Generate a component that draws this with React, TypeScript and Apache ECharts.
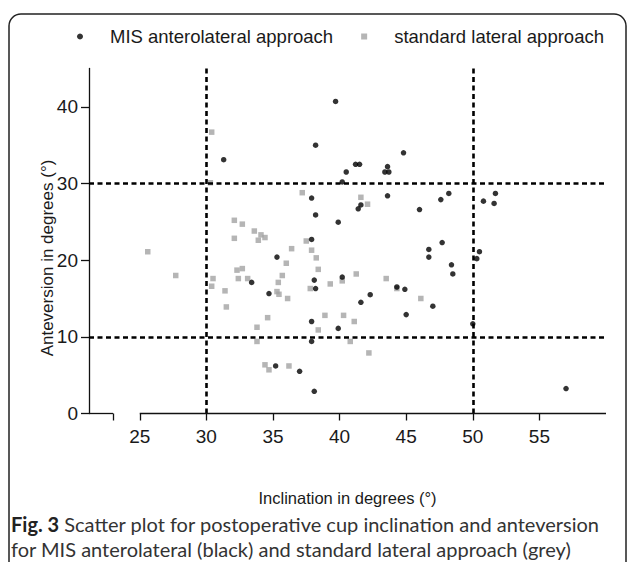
import React, { useEffect, useRef } from "react";
import * as echarts from "echarts";

// MIS anterolateral approach: [inclination, anteversion]
const misPoints: [number, number][] = [
  [31.3, 33.1], [39.7, 40.7], [38.2, 35.0], [44.8, 34.0], [41.2, 32.5], [41.5, 32.5],
  [40.5, 31.5], [43.6, 32.2], [43.4, 31.5], [43.7, 31.5], [40.2, 30.2], [37.9, 28.1],
  [41.6, 27.2], [41.4, 26.7], [43.6, 28.4], [38.2, 25.9], [46.0, 26.6], [47.6, 27.9],
  [48.2, 28.7], [39.9, 24.95], [37.9, 22.7], [50.8, 27.7], [51.7, 28.7], [51.6, 27.4],
  [35.3, 20.4], [33.4, 17.1], [34.7, 15.65], [35.2, 6.2], [38.1, 17.4], [40.2, 17.8],
  [38.2, 16.3], [44.3, 16.5], [44.9, 16.2], [42.3, 15.5], [41.6, 14.5], [47.0, 14.0],
  [45.0, 12.9], [46.7, 21.4], [46.7, 20.4], [47.7, 22.3], [48.4, 19.4], [48.5, 18.2],
  [37.9, 12.0], [39.9, 11.1], [37.9, 9.4], [37.0, 5.5], [38.1, 2.9], [50.3, 20.2],
  [50.5, 21.1], [50.0, 11.7], [57.0, 3.25]
];

// Standard lateral approach: [inclination, anteversion]
const stdPoints: [number, number][] = [
  [30.4, 36.7], [30.3, 30.1], [32.1, 25.2], [32.7, 24.7], [33.6, 23.8], [34.1, 23.3],
  [34.4, 22.95], [32.1, 22.85], [33.9, 22.6], [25.6, 21.1], [27.7, 18.0], [32.3, 18.7],
  [32.7, 18.9], [30.5, 17.6], [32.4, 17.6], [33.1, 17.6], [35.4, 17.1], [30.4, 16.6],
  [31.4, 16.0], [35.3, 15.9], [35.45, 15.55], [31.5, 13.9], [34.6, 12.5], [33.8, 11.25],
  [33.8, 9.4], [34.4, 6.35], [34.7, 5.7], [37.2, 28.8], [41.6, 28.2], [42.1, 27.3],
  [37.5, 22.5], [36.4, 21.5], [37.9, 21.3], [38.25, 20.3], [36.0, 19.6], [38.4, 18.8],
  [35.7, 18.0], [40.2, 17.3], [41.25, 18.2], [39.3, 16.9], [37.8, 16.3], [36.1, 15.0],
  [43.5, 17.6], [44.3, 16.3], [46.1, 15.0], [38.9, 12.8], [40.3, 12.8], [41.1, 12.0],
  [38.4, 10.9], [40.8, 9.4], [42.2, 7.9], [36.2, 6.2]
];

const seriesNames = ["MIS anterolateral approach", "standard lateral approach"];
const xTickLabels = [25, 30, 35, 40, 45, 50, 55];
const xTickMarks = [23, 25, 30, 35, 40, 45, 50, 55];
const xRange = [21.19, 60];
const xBreak = [23, 25];
const yTicks = [0, 10, 20, 30, 40];
const yRange = [0, 45];
const refX = [30, 50];
const refY = [10, 30];
const xTitle = "Inclination in degrees (°)";
const yTitle = "Anteversion in degrees (°)";
const captionBold = "Fig. 3";
const captionLine1 = " Scatter plot for postoperative cup inclination and anteversion";
const captionLine2 = "for MIS anterolateral (black) and standard lateral approach (grey)";

const FONT = "'Liberation Sans', Arial, sans-serif";
const CAP_FONT = "Lato, 'Open Sans', sans-serif";

export default function App() {
  const ref = useRef<HTMLDivElement>(null);
  useEffect(() => {
    if (!ref.current) return;
    const chart = echarts.init(ref.current, undefined, { renderer: "svg" });
    const axisColor = "#111";
    chart.setOption({
      animation: false,
      backgroundColor: "#fff",
      textStyle: { fontFamily: FONT },
      grid: { left: 89, right: 23, top: 68.5, bottom: 148.5 },
      legend: {
        left: 72,
        top: 22,
        itemWidth: 6,
        itemHeight: 6,
        itemGap: 28,
        data: [
          { name: seriesNames[0], icon: "circle" },
          { name: seriesNames[1], icon: "rect" }
        ],
        textStyle: { fontSize: 18.5, color: "#1a1a1a", fontFamily: FONT, padding: [0, 0, 0, 22] }
      },
      xAxis: {
        type: "value",
        min: xRange[0],
        max: xRange[1],
        splitLine: { show: false },
        axisLine: { show: false },
        axisTick: {
          show: true,
          customValues: xTickMarks,
          length: 7,
          lineStyle: { color: axisColor, width: 1.3 }
        },
        axisLabel: {
          customValues: xTickLabels,
          fontSize: 19,
          color: "#1a1a1a",
          margin: 13
        },
        name: xTitle,
        nameLocation: "middle",
        nameGap: 76,
        nameTextStyle: { fontSize: 16.5, color: "#1a1a1a" }
      },
      yAxis: {
        type: "value",
        min: yRange[0],
        max: yRange[1],
        splitLine: { show: false },
        axisLine: { show: true, onZero: false, lineStyle: { color: axisColor, width: 1.3 } },
        axisTick: {
          show: true,
          customValues: yTicks,
          length: 8,
          lineStyle: { color: axisColor, width: 1.3 }
        },
        axisLabel: {
          customValues: yTicks,
          fontSize: 19,
          color: "#1a1a1a",
          margin: 11
        }
      },
      series: [
        {
          name: seriesNames[0],
          type: "scatter",
          symbol: "circle",
          symbolSize: 5.5,
          itemStyle: { color: "#000" },
          data: misPoints,
          z: 3,
          markLine: {
            silent: true,
            symbol: "none",
            label: { show: false },
            lineStyle: { color: "#000", type: [5, 3.5], width: 2.6 },
            data: [
              ...refX.map((v) => ({ xAxis: v })),
              ...refY.map((v) => ({ yAxis: v }))
            ]
          }
        },
        {
          name: seriesNames[1],
          type: "scatter",
          symbol: "rect",
          symbolSize: 5.5,
          itemStyle: { color: "#a2a2a2" },
          data: stdPoints,
          z: 2,
          markLine: {
            silent: true,
            symbol: "none",
            label: { show: false },
            lineStyle: { color: axisColor, type: "solid", width: 1.3 },
            data: [
              [{ coord: [xRange[0], 0] }, { coord: [xBreak[0], 0] }],
              [{ coord: [xBreak[1], 0] }, { coord: [xRange[1], 0] }]
            ]
          }
        }
      ],
      graphic: [
        {
          type: "rect",
          shape: { x: 9, y: 14, width: 617, height: 562, r: 12 },
          style: { fill: "none", stroke: "#222", lineWidth: 1.5 },
          silent: true
        },
        {
          type: "text",
          x: 47,
          y: 258,
          rotation: Math.PI / 2,
          style: {
            text: yTitle,
            font: `17px ${FONT}`,
            fill: "#1a1a1a",
            align: "center",
            verticalAlign: "middle"
          }
        },
        {
          type: "text",
          x: 11,
          y: 524,
          style: {
            text: `{b|${captionBold}}${captionLine1}`,
            font: `20px ${CAP_FONT}`,
            fill: "#333",
            verticalAlign: "middle",
            rich: { b: { fontWeight: "bold", fontSize: 20, fontFamily: CAP_FONT, fill: "#222" } }
          }
        },
        {
          type: "text",
          x: 11,
          y: 549,
          style: {
            text: captionLine2,
            font: `20px ${CAP_FONT}`,
            fill: "#333",
            verticalAlign: "middle"
          }
        }
      ]
    });
    return () => chart.dispose();
  }, []);
  return (
    <div
      ref={ref}
      style={{ position: "fixed", left: 0, top: 0, width: 629, height: 562, background: "#fff" }}
    />
  );
}
